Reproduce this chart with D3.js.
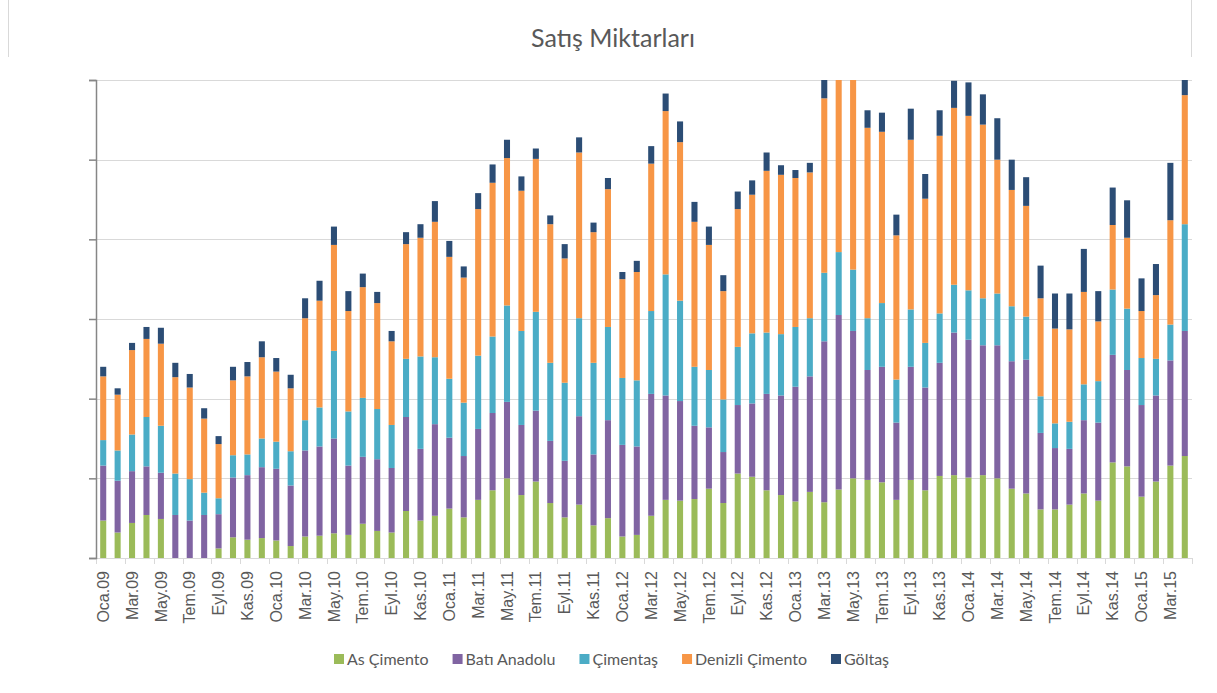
<!DOCTYPE html>
<html>
<head>
<meta charset="utf-8">
<script src="https://cdn.jsdelivr.net/npm/d3@7/dist/d3.min.js"></script>
<style>
  body { margin: 0; background: #fff; }
</style>
</head>
<body>
<div id="chart"></div>
<script>
// months Oca.09 .. Nis.15
var categories = [
  "Oca.09","Şub.09","Mar.09","Nis.09","May.09","Haz.09","Tem.09","Ağu.09","Eyl.09","Eki.09","Kas.09","Ara.09",
  "Oca.10","Şub.10","Mar.10","Nis.10","May.10","Haz.10","Tem.10","Ağu.10","Eyl.10","Eki.10","Kas.10","Ara.10",
  "Oca.11","Şub.11","Mar.11","Nis.11","May.11","Haz.11","Tem.11","Ağu.11","Eyl.11","Eki.11","Kas.11","Ara.11",
  "Oca.12","Şub.12","Mar.12","Nis.12","May.12","Haz.12","Tem.12","Ağu.12","Eyl.12","Eki.12","Kas.12","Ara.12",
  "Oca.13","Şub.13","Mar.13","Nis.13","May.13","Haz.13","Tem.13","Ağu.13","Eyl.13","Eki.13","Kas.13","Ara.13",
  "Oca.14","Şub.14","Mar.14","Nis.14","May.14","Haz.14","Tem.14","Ağu.14","Eyl.14","Eki.14","Kas.14","Ara.14",
  "Oca.15","Şub.15","Mar.15","Nis.15"
];

var tickLabels = [
  "Oca.09","Mar.09","May.09","Tem.09","Eyl.09","Kas.09",
  "Oca.10","Mar.10","May.10","Tem.10","Eyl.10","Kas.10",
  "Oca.11","Mar.11","May.11","Tem.11","Eyl.11","Kas.11",
  "Oca.12","Mar.12","May.12","Tem.12","Eyl.12","Kas.12",
  "Oca.13","Mar.13","May.13","Tem.13","Eyl.13","Kas.13",
  "Oca.14","Mar.14","May.14","Tem.14","Eyl.14","Kas.14",
  "Oca.15","Mar.15"
];

var seriesNames = ["As Çimento", "Batı Anadolu", "Çimentaş", "Denizli Çimento", "Göltaş"];

var asCimento = [
  47,32,44,54,49,0,0,0,12,26,23,25,
  22,15,27,28,31,29,43,34,32,59,47,53,
  62,51,73,85,100,79,96,69,51,67,41,50,
  27,29,53,73,72,74,87,69,106,102,85,79,
  71,83,70,86,100,98,95,73,98,85,103,104,
  101,104,100,87,81,61,61,67,81,72,120,115,
  77,96,116,128
];
var batiAnadolu = [
  69,65,65,61,58,54,47,54,43,75,81,89,
  90,76,108,112,119,87,84,90,81,118,90,115,
  89,77,89,97,96,88,89,78,71,111,89,123,
  115,111,153,131,125,92,77,64,86,92,121,125,
  144,145,202,219,185,138,145,97,142,129,142,179,
  173,163,167,160,168,96,77,70,92,98,135,121,
  115,108,132,157
];
var cimentas = [
  32,38,46,62,59,52,52,28,20,28,26,36,
  34,43,38,49,110,68,74,63,54,73,116,84,
  74,67,92,96,121,118,124,98,98,123,115,117,
  84,83,104,152,126,74,72,66,73,88,77,77,
  75,73,86,79,77,65,80,54,72,56,62,60,
  62,59,65,69,54,46,31,34,45,52,82,77,
  59,46,45,134
];
var denizliCimento = [
  80,70,106,98,103,121,115,93,68,94,98,102,
  88,79,128,134,133,126,139,133,105,144,149,170,
  153,157,184,193,185,176,192,174,156,208,164,173,
  124,136,185,205,199,182,157,136,173,174,203,200,
  187,183,219,235,255,239,215,181,213,181,223,222,
  219,218,168,146,139,123,119,116,116,75,81,89,
  59,80,131,162
];
var goltas = [
  12,8,9,15,20,18,17,13,10,17,18,20,
  17,17,25,25,23,25,17,14,13,15,17,26,
  20,14,20,23,23,18,13,11,18,19,12,14,
  9,14,22,22,26,25,23,20,22,18,23,12,
  10,12,23,25,25,22,24,26,39,31,32,34,
  42,38,52,38,36,41,44,45,54,38,47,47,
  41,39,72,25
];

var yTicks = [0, 100, 200, 300, 400, 500, 600];
var colors = ["#9BBB59", "#8064A2", "#4BACC6", "#F79646", "#2C4D75"];

// build table for d3.stack
var seriesValues = [asCimento, batiAnadolu, cimentas, denizliCimento, goltas];
var table = categories.map(function(c, i) {
  var row = {month: c};
  seriesNames.forEach(function(s, k) { row[s] = seriesValues[k][i]; });
  return row;
});

var W = 1217, H = 693;
var margin = {top: 80, right: 25, bottom: 135, left: 96},
    width = W - margin.left - margin.right,
    height = H - margin.top - margin.bottom;

var svg = d3.select("#chart")
  .append("svg")
  .attr("width", W)
  .attr("height", H);

// faint frame bits at top of picture
svg.append("line").attr("x1", 8.5).attr("x2", 8.5).attr("y1", 0).attr("y2", 57)
  .attr("stroke", "#d9d9d9");
svg.append("line").attr("x1", 1191.5).attr("x2", 1191.5).attr("y1", 0).attr("y2", 57)
  .attr("stroke", "#d9d9d9");

// title
svg.append("text")
  .attr("x", 613)
  .attr("y", 47)
  .attr("text-anchor", "middle")
  .style("font-family", "Lato, 'Open Sans', sans-serif")
  .style("font-size", "25px")
  .style("fill", "#595959")
  .text("Satış Miktarları");

var g = svg.append("g")
  .attr("transform", "translate(" + margin.left + "," + margin.top + ")");

var x = d3.scaleBand()
  .domain(categories)
  .range([0, width])
  .paddingInner(0.58)
  .paddingOuter(0.29);

var y = d3.scaleLinear()
  .domain([0, 600])
  .range([height, 0]);

// gridlines
g.append("g")
  .selectAll("line")
  .data(yTicks.slice(1))
  .enter()
  .append("line")
    .attr("x1", 0)
    .attr("x2", width)
    .attr("y1", function(d) { return Math.round(y(d)) + 0.5; })
    .attr("y2", function(d) { return Math.round(y(d)) + 0.5; })
    .attr("stroke", "#d9d9d9")
    .attr("stroke-width", 1);

// clip so tall bars stop at the top gridline
g.append("clipPath").attr("id", "plotClip")
  .append("rect").attr("x", 0).attr("y", 0).attr("width", width).attr("height", height);

var stacked = d3.stack().keys(seriesNames)(table);

g.append("g")
  .attr("clip-path", "url(#plotClip)")
  .selectAll("g")
  .data(stacked)
  .enter()
  .append("g")
    .attr("fill", function(d, i) { return colors[i]; })
  .selectAll("rect")
  .data(function(d) { return d; })
  .enter()
  .append("rect")
    .attr("x", function(d) { return x(d.data.month); })
    .attr("width", x.bandwidth())
    .attr("y", function(d) { return y(d[1]); })
    .attr("height", function(d) { return y(d[0]) - y(d[1]); });

// x axis: baseline, ticks between every 2 months, rotated labels
var step = x.step();
g.append("line")
  .attr("x1", 0).attr("x2", width)
  .attr("y1", height + 0.5).attr("y2", height + 0.5)
  .attr("stroke", "#d9d9d9");

var tickX = tickLabels.map(function(t) { return x(t) + x.bandwidth() / 2 - step / 2; });
tickX.push(width);
g.append("g")
  .selectAll("line")
  .data(tickX)
  .enter()
  .append("line")
    .attr("x1", function(d) { return Math.round(d) + 0.5; })
    .attr("x2", function(d) { return Math.round(d) + 0.5; })
    .attr("y1", height)
    .attr("y2", height + 6)
    .attr("stroke", "#d9d9d9");

var xAxis = g.append("g")
  .attr("transform", "translate(0," + height + ")")
  .call(d3.axisBottom(x).tickValues(tickLabels).tickSize(0));
xAxis.select(".domain").remove();
xAxis.selectAll("text")
  .attr("transform", "rotate(-90)")
  .attr("x", -13)
  .attr("y", 0)
  .attr("dy", "0.35em")
  .style("text-anchor", "end")
  .style("font-family", "'Liberation Sans', Arial, sans-serif")
  .style("font-size", "16px")
  .style("fill", "#595959");

// y axis, no labels
var yAxis = g.append("g")
  .call(d3.axisLeft(y).tickValues(yTicks).tickSize(7).tickFormat(""));
yAxis.select(".domain").attr("stroke", "#868686").attr("stroke-width", 1.5);
yAxis.selectAll(".tick line").attr("stroke", "#868686").attr("stroke-width", 1.5);

// legend
var legend = svg.append("g").attr("transform", "translate(334,659)");
var lx = 0;
seriesNames.forEach(function(s, i) {
  var item = legend.append("g").attr("transform", "translate(" + lx + ",0)");
  item.append("rect")
    .attr("x", 0).attr("y", -5)
    .attr("width", 10).attr("height", 10)
    .attr("fill", colors[i]);
  var t = item.append("text")
    .attr("x", 13)
    .attr("y", 0)
    .attr("dy", "0.35em")
    .style("font-family", "Lato, 'Open Sans', sans-serif")
    .style("font-size", "16px")
    .style("fill", "#595959")
    .text(s);
  lx += 13 + t.node().getComputedTextLength() + 24;
});
</script>
</body>
</html>
